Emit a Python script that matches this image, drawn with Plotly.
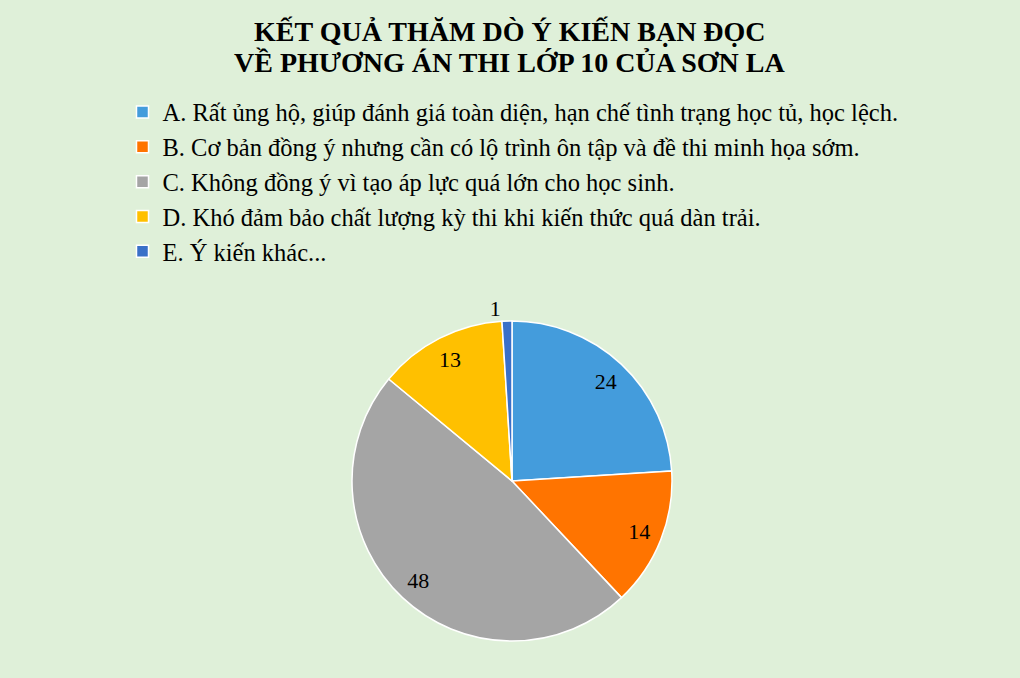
import plotly.graph_objects as go

labels = [
    "A. Rất ủng hộ, giúp đánh giá toàn diện, hạn chế tình trạng học tủ, học lệch.",
    "B. Cơ bản đồng ý nhưng cần có lộ trình ôn tập và đề thi minh họa sớm.",
    "C. Không đồng ý vì tạo áp lực quá lớn cho học sinh.",
    "D. Khó đảm bảo chất lượng kỳ thi khi kiến thức quá dàn trải.",
    "E. Ý kiến khác...",
]
values = [24, 14, 48, 13, 1]
colors = ["#449CDC", "#FF7400", "#A5A5A5", "#FFC000", "#3A70C8"]
title_lines = ["KẾT QUẢ THĂM DÒ Ý KIẾN BẠN ĐỌC", "VỀ PHƯƠNG ÁN THI LỚP 10 CỦA SƠN LA"]

W, H = 1020, 678
cx, cy, r = 512, 481, 160
BG = "#DFF0D9"
domain = dict(x=[(cx - r) / W, (cx + r) / W], y=[(H - cy - r) / H, (H - cy + r) / H])

# main pie (slices + legend)
pie = go.Pie(
    labels=labels,
    values=values,
    sort=False,
    direction="clockwise",
    rotation=0,
    marker=dict(colors=colors, line=dict(color="white", width=1.5)),
    textinfo="none",
    domain=domain,
    showlegend=True,
    hoverinfo="label+value",
)

# transparent ring used only to place the value labels near the rim
ring = go.Pie(
    labels=labels,
    values=values,
    sort=False,
    direction="clockwise",
    rotation=0,
    hole=0.71,
    marker=dict(colors=["rgba(0,0,0,0)"] * len(values), line=dict(width=0)),
    textinfo="value",
    textposition=["inside", "inside", "inside", "inside", "outside"],
    insidetextorientation="horizontal",
    textfont=dict(family="Liberation Serif", size=22, color="black"),
    domain=domain,
    showlegend=False,
    hoverinfo="skip",
)

fig = go.Figure([pie, ring])

annotations = []
for i, line in enumerate(title_lines):
    annotations.append(dict(
        text=line, x=0.5, xref="paper", xanchor="center",
        y=1 - (31 + 31.5 * i) / H, yref="paper", yanchor="middle",
        showarrow=False,
        font=dict(family="Liberation Serif", size=28, color="black", weight="bold"),
    ))

fig.update_layout(
    width=W, height=H,
    paper_bgcolor=BG,
    plot_bgcolor=BG,
    margin=dict(l=0, r=0, t=0, b=0),
    annotations=annotations,
    legend=dict(
        x=122.5 / W, xanchor="left",
        y=1 - 89.5 / H, yanchor="top",
        font=dict(family="Liberation Serif", size=24.5, color="black"),
        bgcolor="rgba(0,0,0,0)",
        itemclick=False,
        itemdoubleclick=False,
    ),
    font=dict(family="Liberation Serif"),
)

fig.write_html(
    "out.html",
    config={"displayModeBar": False},
    post_script="document.body.style.margin='0';document.body.style.background='%s';" % BG,
)
